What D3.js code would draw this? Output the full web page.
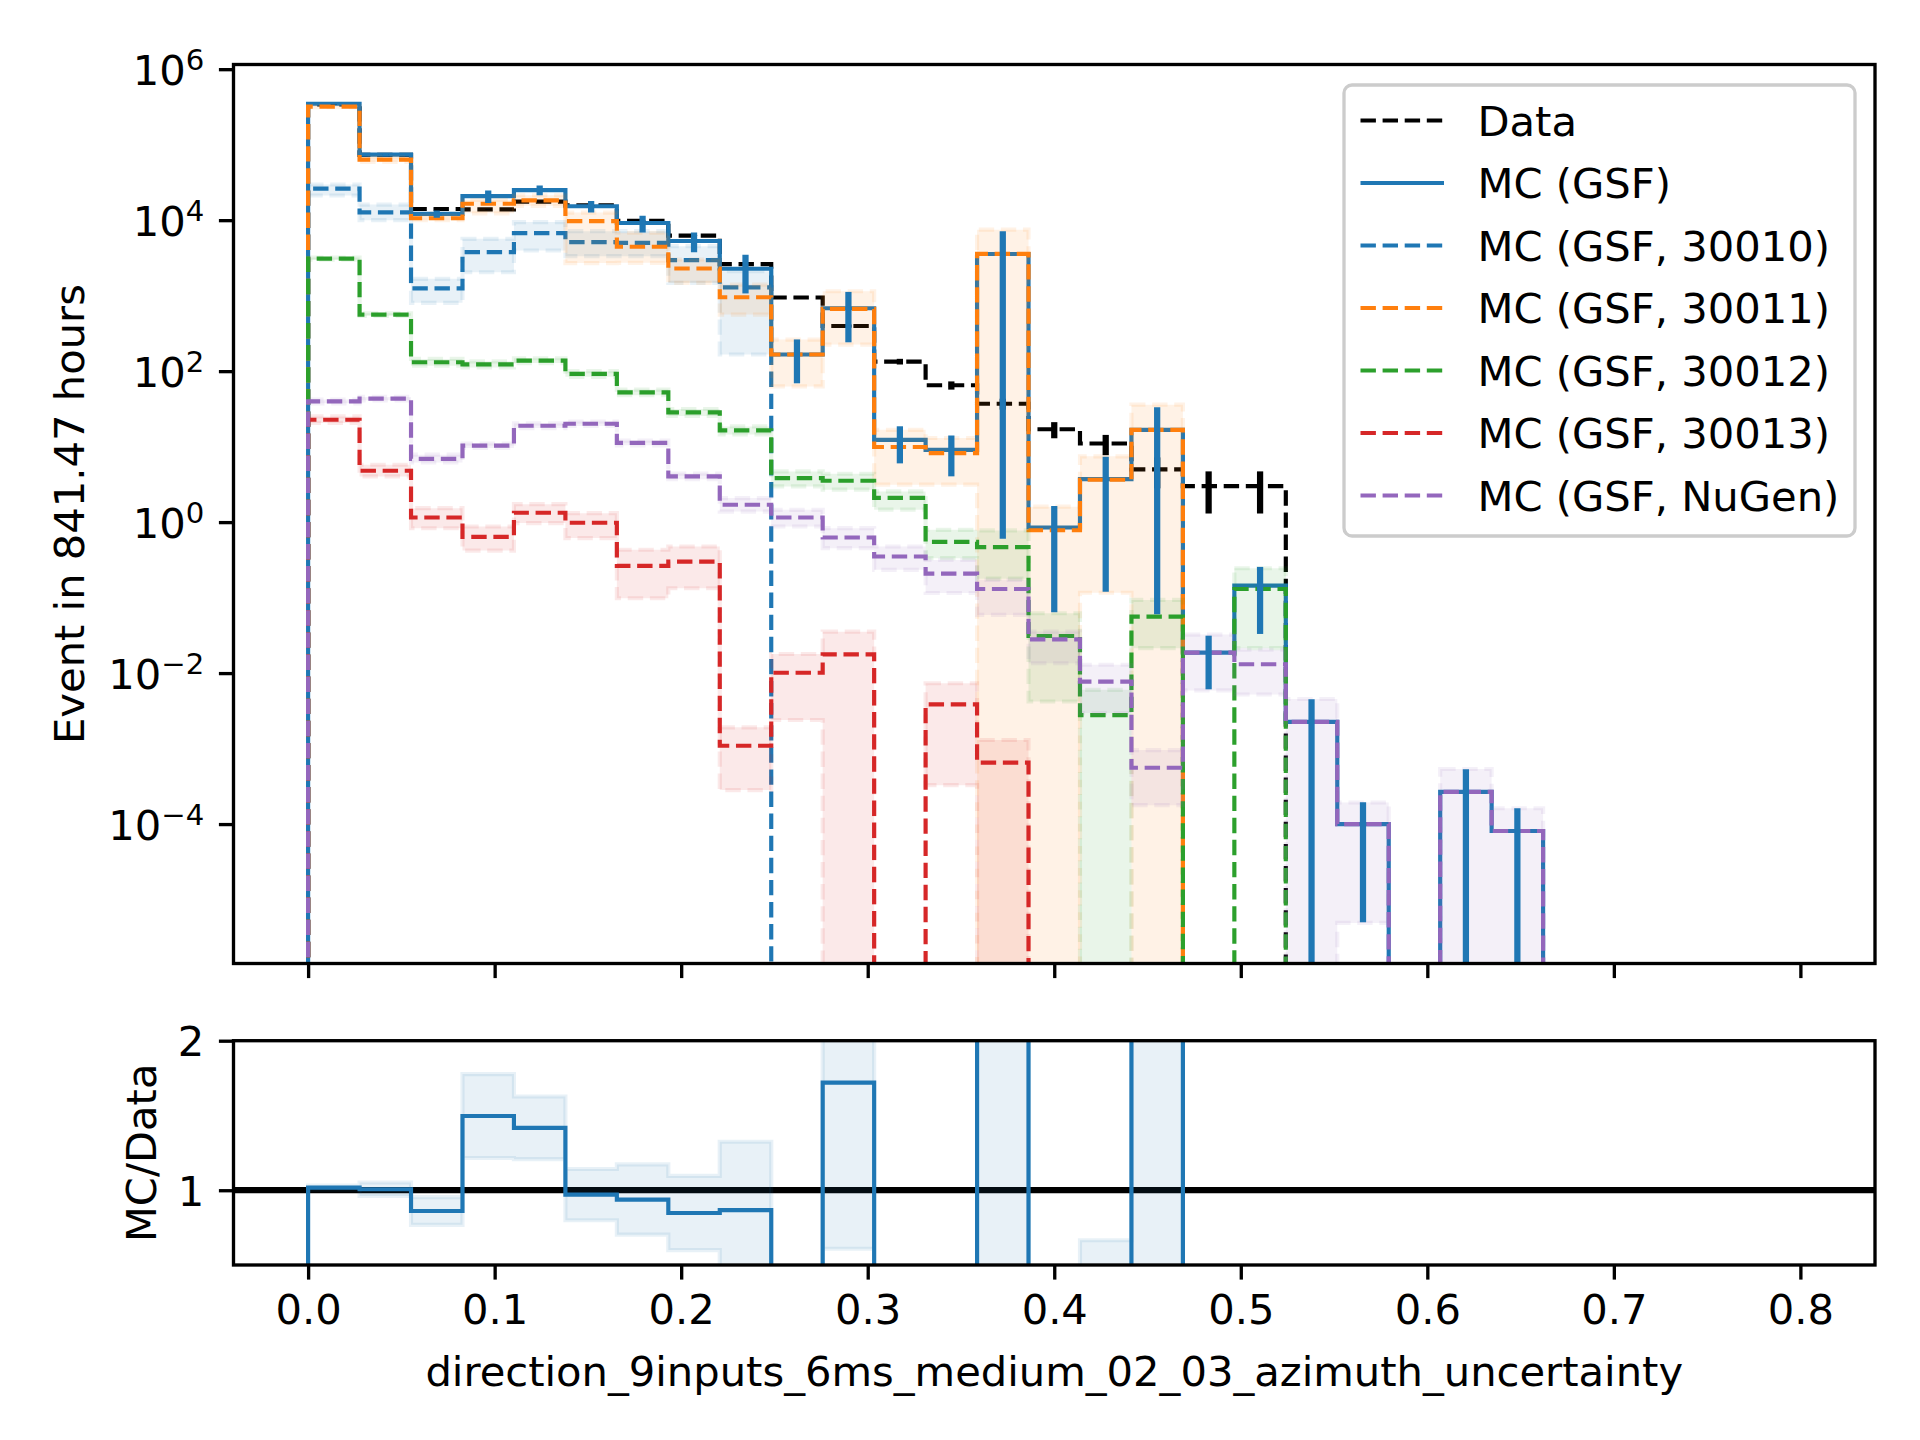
<!DOCTYPE html>
<html><head><meta charset="utf-8">
<script src="https://cdn.jsdelivr.net/npm/d3@7"></script>
<style>body{margin:0;background:#fff} text{font-family:"DejaVu Sans",sans-serif;fill:#000}</style>
</head><body><svg id="c" width="1920" height="1440"></svg>
<script>
// ---------------- data ----------------
const binEdges = [0, 0.027586, 0.055172, 0.082759, 0.110345, 0.137931, 0.165517, 0.193103, 0.22069, 0.248276,
  0.275862, 0.303448, 0.331034, 0.358621, 0.386207, 0.413793, 0.441379, 0.468966, 0.496552, 0.524138,
  0.551724, 0.57931, 0.606897, 0.634483, 0.662069, 0.689655, 0.717241, 0.744828, 0.772414, 0.8];

const dataVals = [342000, 73200, 14050, 13900, 17640, 15760, 9790, 6250, 2620, 944, 396, 134, 65, 37, 17, 11, 5, 3, 3, 0, 0, 0, 0, 0, 0, 0, 0, 0, 0];
const dataErr  = [585, 271, 119, 118, 133, 126, 99, 79, 51, 31, 20, 11.6, 8.1, 6.1, 4.1, 3.3, 2.2, 1.7, 1.7, 0, 0, 0, 0, 0, 0, 0, 0, 0, 0];

const mcGSF    = [348000, 73700, 12100, 20800, 25000, 15300, 9180, 5300, 2270, 166, 681, 12.3, 9.04, 3560, 0.849, 3.72, 16.7, 0.0187, 0.144, 0.00226, 0.0001, 0, 0.000267, 0.000081, 0, 0, 0, 0, 0];
const mcGSFErr = [4800, 3300, 1300, 3900, 3700, 2700, 2300, 1550, 1200, 97, 440, 6.3, 5.0, 3559.4, 0.785, 3.6, 16.64, 0.0126, 0.111, 0.00226, 0.000095, 0, 0.000267, 0.000081, 0, 0, 0, 0, 0];

const mc30010 = [26100, 12700, 1250, 3770, 6730, 5110, 5000, 2950, 1290, 0, 0, 0, 0, 0, 0, 0, 0, 0, 0, 0, 0, 0, 0, 0, 0, 0, 0, 0, 0];
const lo30010 = [21200, 10000, 804, 2040, 3960, 3330, 3330, 1480, 166, 0, 0, 0, 0, 0, 0, 0, 0, 0, 0, 0, 0, 0, 0, 0, 0, 0, 0, 0, 0];
const hi30010 = [29700, 16100, 1671, 5660, 9420, 7140, 7140, 4520, 2110, 0, 0, 0, 0, 0, 0, 0, 0, 0, 0, 0, 0, 0, 0, 0, 0, 0, 0, 0, 0];

const mc30011 = [319000, 63300, 10600, 16500, 18300, 9700, 4440, 2290, 953, 166, 668, 9.88, 8.2, 3580, 0.78, 3.64, 16.7, 0, 0, 0, 0, 0, 0, 0, 0, 0, 0, 0, 0];
const lo30011 = [315000, 59000, 10000, 12300, 15500, 2700, 2720, 1480, 562, 62.8, 225, 3.13, 3.13, 0, 0, 0.116, 0, 0, 0, 0, 0, 0, 0, 0, 0, 0, 0, 0, 0];
const hi30011 = [323000, 68000, 11500, 18600, 21400, 12600, 6810, 3010, 1400, 262, 1143, 16.7, 13.0, 7480, 1.6, 7.43, 36, 0, 0, 0, 0, 0, 0, 0, 0, 0, 0, 0, 0];

const mc30012 = [3100, 561, 131, 123, 138, 91.8, 52.4, 28.4, 16.4, 3.83, 3.53, 2.1, 0.548, 0.466, 0.031, 0.00278, 0.056, 0, 0.130, 0, 0, 0, 0, 0, 0, 0, 0, 0, 0];
const lo30012 = [3000, 540, 118, 112, 128, 84, 48, 25.5, 14.5, 2.97, 2.69, 1.46, 0.333, 0.178, 0.0042, 0, 0.0214, 0, 0.0214, 0, 0, 0, 0, 0, 0, 0, 0, 0, 0];
const hi30012 = [3200, 585, 145, 135, 148, 100, 57, 31.5, 18.5, 4.69, 4.37, 2.55, 0.79, 0.776, 0.062, 0.006, 0.0933, 0, 0.245, 0, 0, 0, 0, 0, 0, 0, 0, 0, 0];

const mc30013 = [22.7, 4.79, 1.15, 0.638, 1.33, 0.98, 0.263, 0.30, 0.00109, 0.0101, 0.0177, 0, 0.00386, 0.00065, 0, 0, 0, 0, 0, 0, 0, 0, 0, 0, 0, 0, 0, 0, 0];
const lo30013 = [20.6, 4.03, 0.83, 0.42, 0.97, 0.614, 0.098, 0.133, 0.000282, 0.00239, 0, 0, 0.000328, 0, 0, 0, 0, 0, 0, 0, 0, 0, 0, 0, 0, 0, 0, 0, 0];
const hi30013 = [25.1, 5.75, 1.53, 0.875, 1.73, 1.315, 0.43, 0.475, 0.00191, 0.0179, 0.0354, 0, 0.00733, 0.0013, 0, 0, 0, 0, 0, 0, 0, 0, 0, 0, 0, 0, 0, 0, 0];

const mcNuGen = [39.8, 43.2, 6.9, 10.3, 18.9, 20.1, 11.2, 4.03, 1.70, 1.15, 0.625, 0.35, 0.208, 0.130, 0.028, 0.0077, 0.000557, 0.0187, 0.0131, 0.00226, 0.0001, 0, 0.000267, 0.000081, 0, 0, 0, 0, 0];
const loNuGen = [37.5, 41, 6.17, 9.6, 17.6, 18.8, 10.4, 3.7, 1.38, 0.875, 0.452, 0.233, 0.115, 0.0589, 0.0135, 0.00295, 0.000178, 0.0059, 0.0052, 0, 0.0000049, 0, 0, 0, 0, 0, 0, 0, 0];
const hiNuGen = [42, 45.5, 7.82, 11.0, 20.3, 21.5, 12.0, 4.4, 2.08, 1.456, 0.832, 0.475, 0.316, 0.172, 0.0355, 0.0129, 0.000955, 0.0324, 0.0204, 0.00454, 0.000193, 0, 0.000537, 0.000162, 0, 0, 0, 0, 0];

const yTickValues = [1e6, 1e4, 1e2, 1, 1e-2, 1e-4];
const yTickExps = ["6", "4", "2", "0", "\u22122", "\u22124"];
const xTickValues = [0, 0.1, 0.2, 0.3, 0.4, 0.5, 0.6, 0.7, 0.8];
const ratioTickValues = [1, 2];

const legendLabels = ["Data", "MC (GSF)", "MC (GSF, 30010)", "MC (GSF, 30011)", "MC (GSF, 30012)", "MC (GSF, 30013)", "MC (GSF, NuGen)"];
const legendColors = ["#000000", "#1f77b4", "#1f77b4", "#ff7f0e", "#2ca02c", "#d62728", "#9467bd"];
const legendDashed = [true, false, true, true, true, true, true];

// ---------------- layout ----------------
const L = 233.5, R = 1875, T = 64.5, B = 963.5;
const RT = 1040.7, RB = 1265;
const FS = 41.67, LW = 4.17, ELW = 6.25, SPW = 3.33, TICK = 14.6;
const DASH = "15.4,6.7";

const svg = d3.select('#c');
svg.append('rect').attr('width', 1920).attr('height', 1440).attr('fill', '#fff');

const x = d3.scaleLinear().domain([-0.04, 0.84]).range([L, R]);
const y = d3.scaleLog().domain([Math.pow(10, -5.847), Math.pow(10, 6.062)]).range([B, T]);
const yr = d3.scaleLinear().domain([0.5, 2]).range([RB, RT]);

const defs = svg.append('defs');
defs.append('clipPath').attr('id', 'clipMain').append('rect').attr('x', L).attr('y', T).attr('width', R - L).attr('height', B - T);
defs.append('clipPath').attr('id', 'clipRatio').append('rect').attr('x', L).attr('y', RT).attr('width', R - L).attr('height', RB - RT);

const FLOOR = B + 60;
const yv = v => (v > 0 ? y(v) : FLOOR);
const xc = i => x((binEdges[i] + binEdges[i + 1]) / 2);

function stepPoints(vals) {
  const pts = [[binEdges[0], 0]];
  vals.forEach((v, i) => { pts.push([binEdges[i], v]); pts.push([binEdges[i + 1], v]); });
  pts.push([binEdges[vals.length], 0]);
  return pts;
}
const mainLine = d3.line().x(d => x(d[0])).y(d => yv(d[1]));

function runsOf(hi) {
  const runs = []; let cur = null;
  hi.forEach((h, i) => {
    if (h > 0 && isFinite(h)) { if (!cur) { cur = []; runs.push(cur); } cur.push(i); }
    else cur = null;
  });
  return runs;
}
function bandPath(run, lo, hi, yfn) {
  const pts = [];
  run.forEach(i => { pts.push([binEdges[i], hi[i]]); pts.push([binEdges[i + 1], hi[i]]); });
  for (let k = run.length - 1; k >= 0; k--) {
    const i = run[k]; pts.push([binEdges[i + 1], lo[i]]); pts.push([binEdges[i], lo[i]]);
  }
  return d3.line().x(d => x(d[0])).y(d => yfn(d[1]))(pts) + 'Z';
}

// ---------------- main panel ----------------
const gMain = svg.append('g').attr('clip-path', 'url(#clipMain)');

gMain.append('path').attr('d', mainLine(stepPoints(dataVals)))
  .attr('fill', 'none').attr('stroke', '#000').attr('stroke-width', LW).attr('stroke-dasharray', DASH);
gMain.append('path').attr('d', mainLine(stepPoints(mcGSF)))
  .attr('fill', 'none').attr('stroke', '#1f77b4').attr('stroke-width', LW);

const comps = [
  {vals: mc30010, lo: lo30010, hi: hi30010, color: '#1f77b4'},
  {vals: mc30011, lo: lo30011, hi: hi30011, color: '#ff7f0e'},
  {vals: mc30012, lo: lo30012, hi: hi30012, color: '#2ca02c'},
  {vals: mc30013, lo: lo30013, hi: hi30013, color: '#d62728'},
  {vals: mcNuGen, lo: loNuGen, hi: hiNuGen, color: '#9467bd'}
];
comps.forEach(c => {
  gMain.append('path').attr('d', mainLine(stepPoints(c.vals)))
    .attr('fill', 'none').attr('stroke', c.color).attr('stroke-width', LW).attr('stroke-dasharray', DASH);
  runsOf(c.hi).forEach(run => {
    gMain.append('path').attr('d', bandPath(run, c.lo, c.hi, yv))
      .attr('fill', c.color).attr('fill-opacity', 0.1)
      .attr('stroke', c.color).attr('stroke-opacity', 0.1).attr('stroke-width', LW).attr('stroke-dasharray', DASH);
  });
});

dataVals.forEach((v, i) => {
  if (v > 0) gMain.append('line').attr('x1', xc(i)).attr('x2', xc(i))
    .attr('y1', yv(v - dataErr[i])).attr('y2', yv(v + dataErr[i]))
    .attr('stroke', '#000').attr('stroke-width', ELW);
});
mcGSF.forEach((v, i) => {
  if (v > 0) gMain.append('line').attr('x1', xc(i)).attr('x2', xc(i))
    .attr('y1', yv(v - mcGSFErr[i])).attr('y2', yv(v + mcGSFErr[i]))
    .attr('stroke', '#1f77b4').attr('stroke-width', ELW);
});

const yAxis = d3.axisLeft(y).tickValues(yTickValues).tickSize(TICK).tickPadding(TICK).tickSizeOuter(0);
const gy = svg.append('g').attr('transform', `translate(${L},0)`).call(yAxis);
gy.select('.domain').remove();
gy.selectAll('.tick line').attr('stroke', '#000').attr('stroke-width', SPW);
gy.selectAll('.tick text').attr('font-size', FS).attr('font-family', 'DejaVu Sans').attr('dy', '0.36em')
  .each(function (d, i) {
    const t = d3.select(this); t.text(null);
    t.append('tspan').text('10');
    t.append('tspan').attr('font-size', FS * 0.7).attr('dy', -15).text(yTickExps[i]);
  });

const xAxisTop = d3.axisBottom(x).tickValues(xTickValues).tickSize(TICK).tickSizeOuter(0).tickFormat('');
const gxt = svg.append('g').attr('transform', `translate(0,${B})`).call(xAxisTop);
gxt.select('.domain').remove();
gxt.selectAll('.tick line').attr('stroke', '#000').attr('stroke-width', SPW);

svg.append('rect').attr('x', L).attr('y', T).attr('width', R - L).attr('height', B - T)
  .attr('fill', 'none').attr('stroke', '#000').attr('stroke-width', SPW);

// ---------------- ratio panel ----------------
const ratio = mcGSF.map((m, i) => dataVals[i] > 0 ? m / dataVals[i] : NaN);
const ratioLo = mcGSF.map((m, i) => dataVals[i] > 0 ? Math.max(0, m - mcGSFErr[i]) / dataVals[i] : NaN);
const ratioHi = mcGSF.map((m, i) => dataVals[i] > 0 ? (m + mcGSFErr[i]) / dataVals[i] : NaN);

const gR = svg.append('g').attr('clip-path', 'url(#clipRatio)');
gR.append('line').attr('x1', L).attr('x2', R).attr('y1', yr(1)).attr('y2', yr(1))
  .attr('stroke', '#000').attr('stroke-width', ELW);
runsOf(ratioHi).forEach(run => {
  gR.append('path').attr('d', bandPath(run, ratioLo, ratioHi, v => yr(v)))
    .attr('fill', '#1f77b4').attr('fill-opacity', 0.1)
    .attr('stroke', '#1f77b4').attr('stroke-opacity', 0.1).attr('stroke-width', LW);
});
const rPts = [[binEdges[0], 0]];
ratio.forEach((r, i) => { rPts.push([binEdges[i], r]); rPts.push([binEdges[i + 1], r]); });
const ratioLine = d3.line().defined(d => isFinite(d[1])).x(d => x(d[0])).y(d => yr(d[1]));
gR.append('path').attr('d', ratioLine(rPts))
  .attr('fill', 'none').attr('stroke', '#1f77b4').attr('stroke-width', LW);

const yrAxis = d3.axisLeft(yr).tickValues(ratioTickValues).tickSize(TICK).tickPadding(TICK).tickSizeOuter(0).tickFormat(d3.format('d'));
const gyr = svg.append('g').attr('transform', `translate(${L},0)`).call(yrAxis);
gyr.select('.domain').remove();
gyr.selectAll('.tick line').attr('stroke', '#000').attr('stroke-width', SPW);
gyr.selectAll('.tick text').attr('font-size', FS).attr('font-family', 'DejaVu Sans').attr('dy', '0.36em');

const xAxisR = d3.axisBottom(x).tickValues(xTickValues).tickSize(TICK).tickPadding(TICK).tickSizeOuter(0).tickFormat(d3.format('.1f'));
const gxr = svg.append('g').attr('transform', `translate(0,${RB})`).call(xAxisR);
gxr.select('.domain').remove();
gxr.selectAll('.tick line').attr('stroke', '#000').attr('stroke-width', SPW);
gxr.selectAll('.tick text').attr('font-size', FS).attr('font-family', 'DejaVu Sans');

svg.append('rect').attr('x', L).attr('y', RT).attr('width', R - L).attr('height', RB - RT)
  .attr('fill', 'none').attr('stroke', '#000').attr('stroke-width', SPW);

// ---------------- labels ----------------
svg.append('text').attr('x', (L + R) / 2).attr('y', 1386).attr('text-anchor', 'middle').attr('font-size', FS)
  .text('direction_9inputs_6ms_medium_02_03_azimuth_uncertainty');
svg.append('text').attr('transform', `translate(84,${(T + B) / 2}) rotate(-90)`).attr('text-anchor', 'middle').attr('font-size', FS)
  .text('Event in 841.47 hours');
svg.append('text').attr('transform', `translate(156,${(RT + RB) / 2}) rotate(-90)`).attr('text-anchor', 'middle').attr('font-size', FS)
  .text('MC/Data');

// ---------------- legend ----------------
const lg = svg.append('g');
lg.append('rect').attr('x', 1344).attr('y', 85).attr('width', 511).attr('height', 451).attr('rx', 8)
  .attr('fill', '#fff').attr('fill-opacity', 0.8).attr('stroke', '#cccccc').attr('stroke-width', SPW);
legendLabels.forEach((lab, k) => {
  const yy = 120.5 + k * 62.5;
  lg.append('line').attr('x1', 1360.5).attr('x2', 1444).attr('y1', yy).attr('y2', yy)
    .attr('stroke', legendColors[k]).attr('stroke-width', LW)
    .attr('stroke-dasharray', legendDashed[k] ? DASH : null);
  lg.append('text').attr('x', 1477.5).attr('y', yy + 15).attr('font-size', FS).text(lab);
});
</script></body></html>
